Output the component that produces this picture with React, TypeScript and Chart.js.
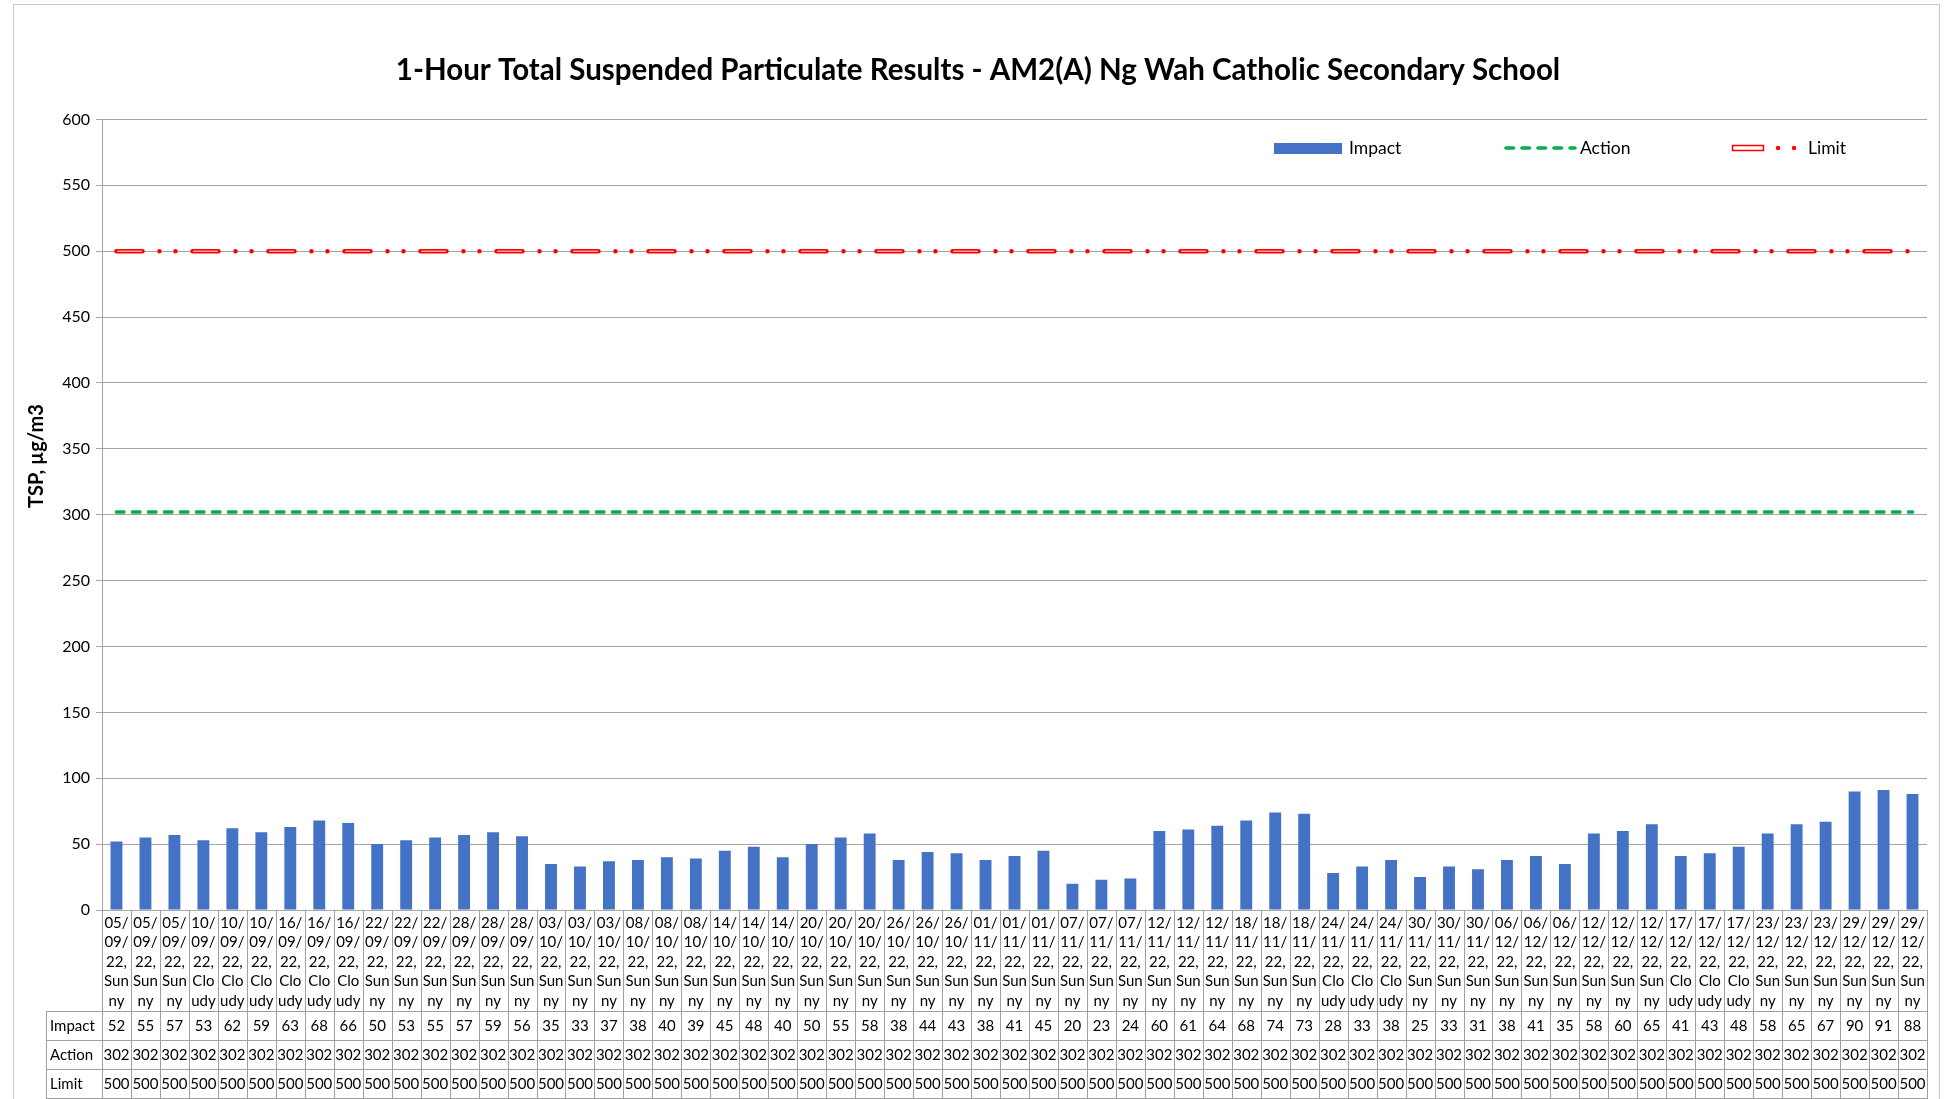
import React, { useEffect, useRef } from "react";
import { Chart, registerables } from "chart.js";

Chart.register(...registerables);

const TITLE = "1-Hour Total Suspended Particulate Results - AM2(A) Ng Wah Catholic Secondary School";
const Y_TITLE = "TSP, µg/m3";

const categories: string[] = [
  "05/09/22, Sunny", "05/09/22, Sunny", "05/09/22, Sunny",
  "10/09/22, Cloudy", "10/09/22, Cloudy", "10/09/22, Cloudy",
  "16/09/22, Cloudy", "16/09/22, Cloudy", "16/09/22, Cloudy",
  "22/09/22, Sunny", "22/09/22, Sunny", "22/09/22, Sunny",
  "28/09/22, Sunny", "28/09/22, Sunny", "28/09/22, Sunny",
  "03/10/22, Sunny", "03/10/22, Sunny", "03/10/22, Sunny",
  "08/10/22, Sunny", "08/10/22, Sunny", "08/10/22, Sunny",
  "14/10/22, Sunny", "14/10/22, Sunny", "14/10/22, Sunny",
  "20/10/22, Sunny", "20/10/22, Sunny", "20/10/22, Sunny",
  "26/10/22, Sunny", "26/10/22, Sunny", "26/10/22, Sunny",
  "01/11/22, Sunny", "01/11/22, Sunny", "01/11/22, Sunny",
  "07/11/22, Sunny", "07/11/22, Sunny", "07/11/22, Sunny",
  "12/11/22, Sunny", "12/11/22, Sunny", "12/11/22, Sunny",
  "18/11/22, Sunny", "18/11/22, Sunny", "18/11/22, Sunny",
  "24/11/22, Cloudy", "24/11/22, Cloudy", "24/11/22, Cloudy",
  "30/11/22, Sunny", "30/11/22, Sunny", "30/11/22, Sunny",
  "06/12/22, Sunny", "06/12/22, Sunny", "06/12/22, Sunny",
  "12/12/22, Sunny", "12/12/22, Sunny", "12/12/22, Sunny",
  "17/12/22, Cloudy", "17/12/22, Cloudy", "17/12/22, Cloudy",
  "23/12/22, Sunny", "23/12/22, Sunny", "23/12/22, Sunny",
  "29/12/22, Sunny", "29/12/22, Sunny", "29/12/22, Sunny",
];

const impact: number[] = [
  52, 55, 57, 53, 62, 59, 63, 68, 66, 50,
  53, 55, 57, 59, 56, 35, 33, 37, 38, 40,
  39, 45, 48, 40, 50, 55, 58, 38, 44, 43,
  38, 41, 45, 20, 23, 24, 60, 61, 64, 68,
  74, 73, 28, 33, 38, 25, 33, 31, 38, 41,
  35, 58, 60, 65, 41, 43, 48, 58, 65, 67,
  90, 91, 88,
];

const action: number[] = [
  302, 302, 302, 302, 302, 302, 302, 302, 302, 302,
  302, 302, 302, 302, 302, 302, 302, 302, 302, 302,
  302, 302, 302, 302, 302, 302, 302, 302, 302, 302,
  302, 302, 302, 302, 302, 302, 302, 302, 302, 302,
  302, 302, 302, 302, 302, 302, 302, 302, 302, 302,
  302, 302, 302, 302, 302, 302, 302, 302, 302, 302,
  302, 302, 302,
];

const limit: number[] = [
  500, 500, 500, 500, 500, 500, 500, 500, 500, 500,
  500, 500, 500, 500, 500, 500, 500, 500, 500, 500,
  500, 500, 500, 500, 500, 500, 500, 500, 500, 500,
  500, 500, 500, 500, 500, 500, 500, 500, 500, 500,
  500, 500, 500, 500, 500, 500, 500, 500, 500, 500,
  500, 500, 500, 500, 500, 500, 500, 500, 500, 500,
  500, 500, 500,
];

const Y_MIN = 0;
const Y_MAX = 600;
const Y_STEP = 50;

const FONT = "Lato, 'Open Sans', sans-serif";
const BAR_COLOR = "#4472C4";
const ACTION_COLOR = "#00B050";
const LIMIT_COLOR = "#FF0000";
const GRID = "#a6a6a6";
const TABLE_LINE = "#a0a0a0";

function wrapLabel(label: string): string[] {
  const out: string[] = [];
  label.split(" ").forEach((word) => {
    for (let i = 0; i < word.length; i += 3) out.push(word.slice(i, i + 3));
  });
  return out;
}

const decorPlugin = {
  id: "decor",
  afterDraw(chart: any) {
    const ctx: CanvasRenderingContext2D = chart.ctx;
    const area = chart.chartArea;
    const xs = chart.scales.x;
    const labels: string[] = chart.data.labels;
    const n = labels.length;
    const w = (area.right - area.left) / n;
    const bottom = area.bottom;
    const rowTops = [bottom + 101, bottom + 130, bottom + 159, bottom + 188];
    const tableLeft = 46;

    ctx.save();
    // outer chart border
    ctx.strokeStyle = "#c8c8c8";
    ctx.lineWidth = 1;
    ctx.strokeRect(13.5, 4.5, 1926, 1200);

    // table grid
    ctx.strokeStyle = TABLE_LINE;
    ctx.lineWidth = 1;
    ctx.beginPath();
    rowTops.forEach((y) => {
      ctx.moveTo(tableLeft, Math.round(y) + 0.5);
      ctx.lineTo(area.right, Math.round(y) + 0.5);
    });
    ctx.moveTo(tableLeft + 0.5, Math.round(rowTops[0]));
    ctx.lineTo(tableLeft + 0.5, Math.round(rowTops[3]) + 1);
    for (let i = 0; i <= n; i++) {
      const x = Math.round(area.left + i * w) + 0.5;
      ctx.moveTo(x, bottom);
      ctx.lineTo(x, Math.round(rowTops[3]) + 1);
    }
    ctx.stroke();

    // category labels
    ctx.fillStyle = "#000";
    ctx.font = `15px ${FONT}`;
    ctx.textAlign = "center";
    ctx.textBaseline = "middle";
    labels.forEach((lab, i) => {
      const cx = xs.getPixelForValue(i);
      wrapLabel(lab).forEach((line, k) => {
        ctx.fillText(line, cx, bottom + 13 + k * 19.5);
      });
    });

    // data rows
    const dsRows = [0, 1, 2];
    dsRows.forEach((di, r) => {
      const ds = chart.data.datasets[di];
      const yc = (rowTops[r] + rowTops[r + 1]) / 2 + 1;
      ctx.textAlign = "left";
      ctx.fillText(ds.label, tableLeft + 4, yc);
      ctx.textAlign = "center";
      ds.data.forEach((v: number, i: number) => {
        ctx.fillText(String(v), xs.getPixelForValue(i), yc);
      });
    });

    // y title
    ctx.save();
    ctx.translate(37, 456);
    ctx.rotate(-Math.PI / 2);
    ctx.font = `bold 20px ${FONT}`;
    ctx.textAlign = "center";
    ctx.textBaseline = "middle";
    ctx.fillText(Y_TITLE, 0, 0);
    ctx.restore();

    // legend
    const ly = 148;
    ctx.font = `17.5px ${FONT}`;
    ctx.textAlign = "left";
    ctx.textBaseline = "middle";
    // Impact
    ctx.fillStyle = BAR_COLOR;
    ctx.fillRect(1274, ly - 5, 68, 11);
    ctx.fillStyle = "#000";
    ctx.fillText(chart.data.datasets[0].label, 1349, ly);
    // Action
    ctx.strokeStyle = ACTION_COLOR;
    ctx.lineWidth = 3.5;
    ctx.lineCap = "round";
    ctx.setLineDash([7.5, 8.5]);
    ctx.beginPath();
    ctx.moveTo(1506, ly);
    ctx.lineTo(1575, ly);
    ctx.stroke();
    ctx.setLineDash([]);
    ctx.fillText(chart.data.datasets[1].label, 1580, ly);
    // Limit
    ctx.fillStyle = "#fff";
    ctx.strokeStyle = LIMIT_COLOR;
    ctx.lineWidth = 1.5;
    ctx.beginPath();
    ctx.rect(1732.5, ly - 2.5, 31, 5);
    ctx.fill();
    ctx.stroke();
    ctx.fillStyle = LIMIT_COLOR;
    [1778, 1794].forEach((dx) => {
      ctx.beginPath();
      ctx.arc(dx, ly, 2.2, 0, Math.PI * 2);
      ctx.fill();
    });
    ctx.fillStyle = "#000";
    ctx.fillText(chart.data.datasets[2].label, 1808, ly);

    ctx.restore();
  },
};

export default function App() {
  const ref = useRef<HTMLCanvasElement | null>(null);

  useEffect(() => {
    if (!ref.current) return;
    const chart = new Chart(ref.current, {
      type: "bar",
      data: {
        labels: categories,
        datasets: [
          {
            type: "bar",
            label: "Impact",
            data: impact,
            backgroundColor: BAR_COLOR,
            barPercentage: 0.41,
            categoryPercentage: 1,
            order: 3,
          },
          {
            type: "line",
            label: "Action",
            data: action,
            borderColor: ACTION_COLOR,
            borderWidth: 3.5,
            borderDash: [7.5, 8.5],
            borderCapStyle: "round",
            pointRadius: 0,
            fill: false,
            order: 2,
          },
          {
            type: "line",
            label: "Limit",
            data: limit,
            borderColor: LIMIT_COLOR,
            borderWidth: 4.5,
            borderDash: [26, 17, 0, 16, 0, 17],
            borderCapStyle: "round",
            pointRadius: 0,
            fill: false,
            order: 1,
          },
          {
            type: "line",
            label: "Limit (inner)",
            data: limit,
            borderColor: "#ff9c9c",
            borderWidth: 1.5,
            borderDash: [25, 51],
            borderDashOffset: -0.5,
            borderCapStyle: "butt",
            pointRadius: 0,
            fill: false,
            order: 0,
          },
        ],
      } as any,
      options: {
        responsive: false,
        animation: false,
        devicePixelRatio: 1,
        layout: { padding: { left: 29, right: 21, top: 0, bottom: 0 } },
        plugins: {
          legend: { display: false },
          tooltip: { enabled: false },
          title: {
            display: true,
            text: TITLE,
            color: "#000",
            font: { family: FONT, size: 29.5, weight: "bold", lineHeight: 1.2 },
            padding: { top: 53, bottom: 31 },
          },
        },
        scales: {
          x: {
            type: "category",
            offset: true,
            grid: { display: false },
            border: { display: false },
            ticks: { display: false },
            afterFit: (s: any) => {
              s.height = 189;
            },
          },
          y: {
            min: Y_MIN,
            max: Y_MAX,
            ticks: {
              stepSize: Y_STEP,
              color: "#000",
              font: { family: FONT, size: 16 },
              padding: 6,
            },
            grid: { color: GRID, lineWidth: 1, tickLength: 6 },
            border: { color: GRID, width: 1 },
            afterFit: (s: any) => {
              s.width = 73;
            },
          },
        },
      } as any,
      plugins: [decorPlugin],
    });
    return () => chart.destroy();
  }, []);

  return (
    <div style={{ position: "absolute", left: 0, top: 0, width: 1948, height: 1099, background: "#fff" }}>
      <canvas ref={ref} width={1948} height={1099} style={{ display: "block" }} />
    </div>
  );
}
